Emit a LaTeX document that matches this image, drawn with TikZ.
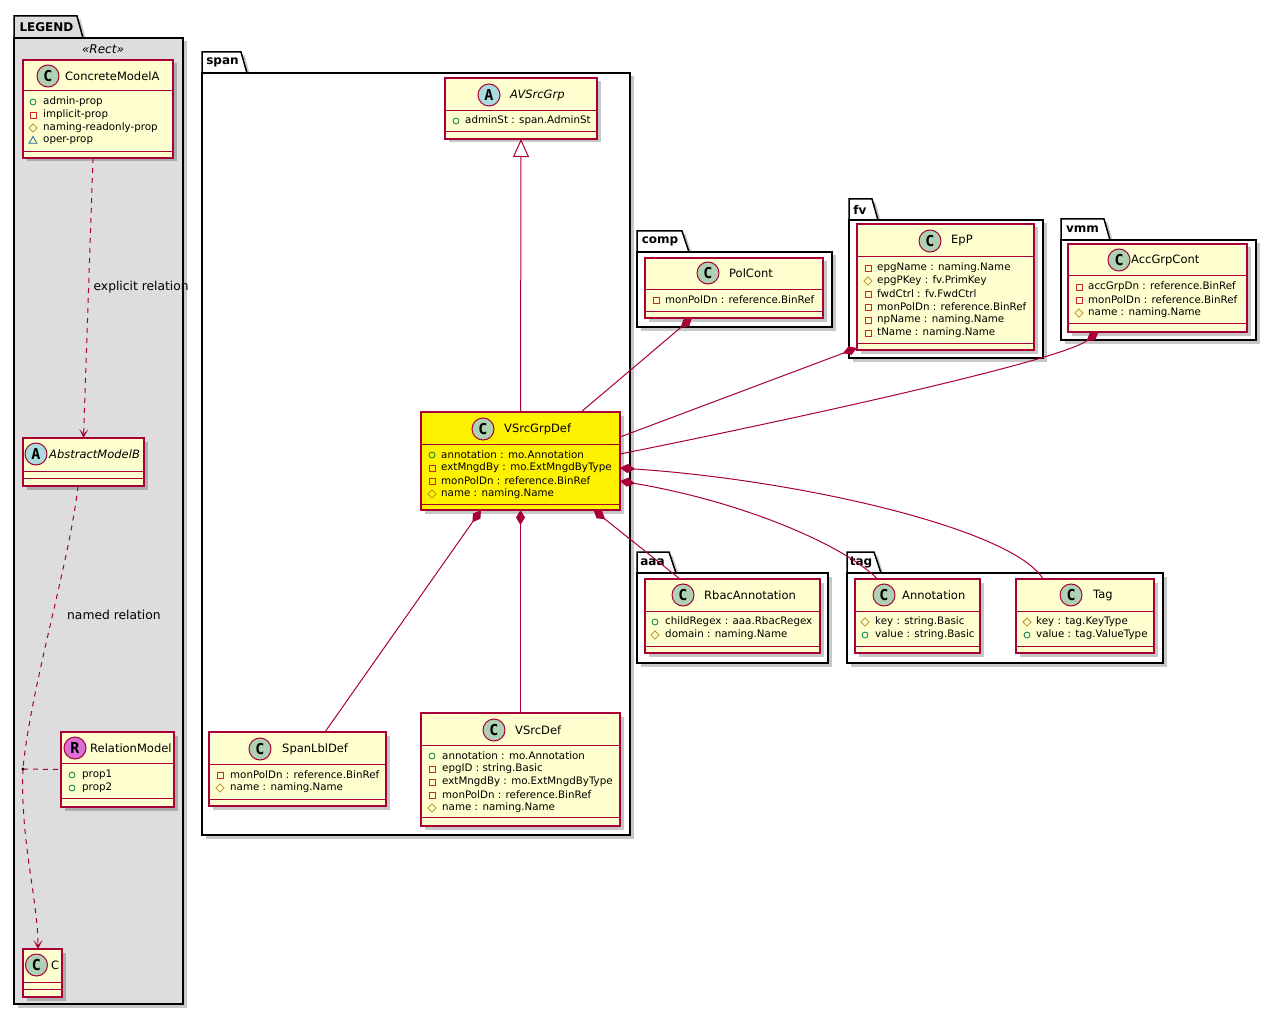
\documentclass[tikz,border=0pt]{standalone}
\usepackage{fontspec}
\setmainfont{DejaVu Sans}
\newfontfamily\spotfont{DejaVu Sans Mono}
\usepackage{xcolor}
\usepackage{tikz}
\usetikzlibrary{arrows.meta,shapes.geometric,shadows}

\definecolor{umlred}{HTML}{A80036}
\definecolor{umlfill}{HTML}{FEFECE}
\definecolor{spotC}{HTML}{ADD1B2}
\definecolor{spotA}{HTML}{A9DCDF}
\definecolor{spotR}{HTML}{DA70D6}
\definecolor{legendgray}{HTML}{DDDDDD}
\definecolor{icpub}{HTML}{038048}
\definecolor{icpriv}{HTML}{C82930}
\definecolor{icprot}{HTML}{B38D22}
\definecolor{icpkg}{HTML}{1963A0}

\begin{document}
\begin{tikzpicture}[x=1pt,y=-1pt,
  cls/.style={rectangle, draw=umlred, fill=umlfill, line width=1.1pt, inner sep=0, outer sep=0,
    drop shadow={shadow xshift=3.5pt, shadow yshift=-3.5pt, opacity=0.22, fill=black}},
  sepl/.style={umlred, line width=1pt},
  spot/.style={circle, draw=umlred, line width=1pt, minimum size=22, inner sep=0,
    font=\spotfont\bfseries\fontsize{15}{15}\selectfont},
  ttl/.style={anchor=west, inner sep=0, font=\fontsize{11.5}{13}\selectfont},
  ttli/.style={ttl, font=\fontsize{11.5}{13}\selectfont\itshape},
  att/.style={anchor=west, inner sep=0, font=\fontsize{10.3}{12}\selectfont},
  vpub/.style={circle, draw=icpub, line width=0.8pt, minimum size=6, inner sep=0},
  vpriv/.style={rectangle, draw=icpriv, line width=0.8pt, minimum size=6, inner sep=0},
  vprot/.style={diamond, draw=icprot, line width=0.8pt, minimum size=8.5, inner sep=0},
  vpkg/.style={regular polygon, regular polygon sides=3, draw=icpkg, line width=0.8pt, minimum size=9, inner sep=0},
  pkgbox/.style={draw=black, fill=white, line width=1.5pt,
    drop shadow={shadow xshift=3.5pt, shadow yshift=-3.5pt, opacity=0.22, fill=black}},
  pkglbl/.style={inner sep=0, font=\bfseries\fontsize{12}{14}\selectfont},
  stereo/.style={inner sep=0, font=\itshape\fontsize{12}{14}\selectfont},
  elbl/.style={inner sep=0, anchor=west, text=black, font=\fontsize{12.3}{14}\selectfont},
  compo/.style={umlred, line width=1pt, {Diamond[length=15pt,width=9pt]}-},
  inh/.style={umlred, line width=1pt, -{Triangle[length=18pt,width=16pt,fill=white]}},
  depl/.style={umlred, line width=1pt, dash pattern=on 5pt off 5pt},
  dep/.style={depl, -{Stealth[length=9pt,width=9pt,inset=5pt]}}]

\useasboundingbox[fill=white] (0,0) rectangle (1276,1016);

% packages
\filldraw[pkgbox, fill=legendgray] (14,38) -- (14,16) -- (77,16) -- (83,38) -- cycle;
\filldraw[pkgbox, fill=legendgray] (14,38) rectangle (183,1004);
\node[pkglbl] (legtab) at (46.5,27.5) {LEGEND};
\node[stereo] (legster) at (103,49) {«Rect»};

\filldraw[pkgbox] (202,73) -- (202,52) -- (241,52) -- (247,73) -- cycle;
\filldraw[pkgbox] (202,73) rectangle (630,835);
\node[pkglbl] (spantab) at (222.5,62.5) {span};

\filldraw[pkgbox] (637,252) -- (637,231) -- (682,231) -- (689,252) -- cycle;
\filldraw[pkgbox] (637,252) rectangle (832,327);
\node[pkglbl] (comptab) at (660,241.5) {comp};

\filldraw[pkgbox] (849,220) -- (849,199) -- (872,199) -- (878,220) -- cycle;
\filldraw[pkgbox] (849,220) rectangle (1043,358);
\node[pkglbl] (fvtab) at (860,209.5) {fv};

\filldraw[pkgbox] (1061,240) -- (1061,219) -- (1104,219) -- (1110,240) -- cycle;
\filldraw[pkgbox] (1061,240) rectangle (1256,340);
\node[pkglbl] (vmmtab) at (1082.5,229.5) {vmm};

\filldraw[pkgbox] (637,573) -- (637,552) -- (669,552) -- (676,573) -- cycle;
\filldraw[pkgbox] (637,573) rectangle (828,663);
\node[pkglbl] (aaatab) at (652.5,562.5) {aaa};

\filldraw[pkgbox] (847,573) -- (847,552) -- (874,552) -- (881,573) -- cycle;
\filldraw[pkgbox] (847,573) rectangle (1163,663);
\node[pkglbl] (tagtab) at (861,562.5) {tag};

% legend classes
\node[cls, minimum width=150, minimum height=98] (concA) at (98,109) {};
\draw[sepl] (23,91) -- (173,91) (23,152) -- (173,152);
\node[spot, fill=spotC] (concAspot) at (48,76) {C};
\node[ttl] (concAname) at (65,76) {ConcreteModelA};
\foreach \ic/\tx [count=\i] in {vpub/admin-prop, vpriv/implicit-prop, vprot/naming-readonly-prop, vpkg/oper-prop}
  {\node[\ic] (concAic\i) at (33,89+13*\i) {};
   \node[att] (concAat\i) at (43,89+13*\i) {\tx};}

\node[cls, minimum width=121, minimum height=48] (absB) at (83.5,462) {};
\draw[sepl] (23,471) -- (144,471) (23,478) -- (144,478);
\node[spot, fill=spotA] (absBspot) at (36,454) {A};
\node[ttli] (absBname) at (49,454) {AbstractModelB};

\node[cls, minimum width=113, minimum height=75] (relM) at (117.5,769.5) {};
\draw[sepl] (61,763) -- (174,763) (61,798) -- (174,798);
\node[spot, fill=spotR] (relMspot) at (75,748) {R};
\node[ttl] (relMname) at (90,748) {RelationModel};
\foreach \tx [count=\i] in {prop1, prop2}
  {\node[vpub] (relMic\i) at (72,762+13*\i) {};
   \node[att] (relMat\i) at (82,762+13*\i) {\tx};}

\node[cls, minimum width=39, minimum height=48] (cC) at (42.5,973) {};
\draw[sepl] (23,982) -- (62,982) (23,989) -- (62,989);
\node[spot, fill=spotC] (cCspot) at (36.5,965) {C};
\node[ttl] (cCname) at (51,965) {C};

% span
\node[cls, minimum width=152, minimum height=61] (avsg) at (521,108.5) {};
\draw[sepl] (445,111) -- (597,111) (445,132) -- (597,132);
\node[spot, fill=spotA] (avsgspot) at (489,95) {A};
\node[ttli] (avsgname) at (510,95) {AVSrcGrp};
\node[vpub] (avsgic1) at (456,121) {};
\node[att] (avsgat1) at (465,121) {adminSt : span.AdminSt};

\node[cls, fill=yellow, minimum width=199, minimum height=98] (vsgd) at (520.5,461) {};
\draw[sepl] (421,444) -- (620,444) (421,504) -- (620,504);
\node[spot, fill=spotC] (vsgdspot) at (483,429) {C};
\node[ttl] (vsgdname) at (504,429) {VSrcGrpDef};
\foreach \ic/\tx [count=\i] in {vpub/annotation : mo.Annotation, vpriv/extMngdBy : mo.ExtMngdByType,
    vpriv/monPolDn : reference.BinRef, vprot/name : naming.Name}
  {\node[\ic] (vsgdic\i) at (432,442+13*\i) {};
   \node[att] (vsgdat\i) at (441,442+13*\i) {\tx};}

\node[cls, minimum width=177, minimum height=74] (spanl) at (297.5,769) {};
\draw[sepl] (209,764) -- (386,764) (209,799) -- (386,799);
\node[spot, fill=spotC] (spanlspot) at (260,749) {C};
\node[ttl] (spanlname) at (282,749) {SpanLblDef};
\foreach \ic/\tx [count=\i] in {vpriv/monPolDn : reference.BinRef, vprot/name : naming.Name}
  {\node[\ic] (spanlic\i) at (220,762+13*\i) {};
   \node[att] (spanlat\i) at (230,762+13*\i) {\tx};}

\node[cls, minimum width=199, minimum height=113] (vsrc) at (520.5,769.5) {};
\draw[sepl] (421,745) -- (620,745) (421,817) -- (620,817);
\node[spot, fill=spotC] (vsrcspot) at (494,730) {C};
\node[ttl] (vsrcname) at (515,730) {VSrcDef};
\foreach \ic/\tx [count=\i] in {vpub/annotation : mo.Annotation, vpriv/epgID : string.Basic,
    vpriv/extMngdBy : mo.ExtMngdByType, vpriv/monPolDn : reference.BinRef, vprot/name : naming.Name}
  {\node[\ic] (vsrcic\i) at (432,743+13*\i) {};
   \node[att] (vsrcat\i) at (442,743+13*\i) {\tx};}

% comp, fv, vmm
\node[cls, minimum width=178, minimum height=60] (polc) at (734,288) {};
\draw[sepl] (645,289) -- (823,289) (645,311) -- (823,311);
\node[spot, fill=spotC] (polcspot) at (708,273) {C};
\node[ttl] (polcname) at (729,273) {PolCont};
\node[vpriv] (polcic1) at (656,300) {};
\node[att] (polcat1) at (665,300) {monPolDn : reference.BinRef};

\node[cls, minimum width=177, minimum height=126] (epp) at (945.5,287) {};
\draw[sepl] (857,257) -- (1034,257) (857,343) -- (1034,343);
\node[spot, fill=spotC] (eppspot) at (930,241) {C};
\node[ttl] (eppname) at (951,241) {EpP};
\foreach \ic/\tx [count=\i] in {vpriv/epgName : naming.Name, vprot/epgPKey : fv.PrimKey,
    vpriv/fwdCtrl : fv.FwdCtrl, vpriv/monPolDn : reference.BinRef, vpriv/npName : naming.Name,
    vpriv/tName : naming.Name}
  {\node[\ic] (eppic\i) at (868,255+13*\i) {};
   \node[att] (eppat\i) at (877,255+13*\i) {\tx};}

\node[cls, minimum width=179, minimum height=88] (acc) at (1157.5,288) {};
\draw[sepl] (1068,275) -- (1247,275) (1068,323) -- (1247,323);
\node[spot, fill=spotC] (accspot) at (1119,260) {C};
\node[ttl] (accname) at (1131,260) {AccGrpCont};
\foreach \ic/\tx [count=\i] in {vpriv/accGrpDn : reference.BinRef, vpriv/monPolDn : reference.BinRef,
    vprot/name : naming.Name}
  {\node[\ic] (accic\i) at (1079,274+13*\i) {};
   \node[att] (accat\i) at (1088,274+13*\i) {\tx};}

% aaa, tag
\node[cls, minimum width=175, minimum height=74] (rbac) at (732.5,616) {};
\draw[sepl] (645,611) -- (820,611) (645,646) -- (820,646);
\node[spot, fill=spotC] (rbacspot) at (683,595) {C};
\node[ttl] (rbacname) at (704,595) {RbacAnnotation};
\foreach \ic/\tx [count=\i] in {vpub/childRegex : aaa.RbacRegex, vprot/domain : naming.Name}
  {\node[\ic] (rbacic\i) at (655,609+13*\i) {};
   \node[att] (rbacat\i) at (665,609+13*\i) {\tx};}

\node[cls, minimum width=125, minimum height=74] (annot) at (917.5,616) {};
\draw[sepl] (855,611) -- (980,611) (855,646) -- (980,646);
\node[spot, fill=spotC] (annotspot) at (884,595) {C};
\node[ttl] (annotname) at (902,595) {Annotation};
\foreach \ic/\tx [count=\i] in {vprot/key : string.Basic, vpub/value : string.Basic}
  {\node[\ic] (annotic\i) at (865,609+13*\i) {};
   \node[att] (annotat\i) at (875,609+13*\i) {\tx};}

\node[cls, minimum width=138, minimum height=74] (tagc) at (1085,616) {};
\draw[sepl] (1016,611) -- (1154,611) (1016,646) -- (1154,646);
\node[spot, fill=spotC] (tagcspot) at (1071,595) {C};
\node[ttl] (tagcname) at (1093,595) {Tag};
\foreach \ic/\tx [count=\i] in {vprot/key : tag.KeyType, vpub/value : tag.ValueType}
  {\node[\ic] (tagcic\i) at (1027,609+13*\i) {};
   \node[att] (tagcat\i) at (1036,609+13*\i) {\tx};}

% draw the legend relations
\draw[dep] ([xshift=-5pt]concA.south) -- (absB.north)
  node[elbl, pos=0.46, xshift=4.5pt] (lblexp) {explicit relation};
\coordinate (relpt) at (23,769);
\draw[depl] ([xshift=-5.5pt]absB.south) .. controls +(-8,74) and +(7,-79) .. (relpt);
\draw[dep] (relpt) .. controls +(-3,71) and +(0,-49) .. ([xshift=-4.5pt]cC.north);
\draw[depl] (relpt) -- (relM.west);
\fill (relpt) circle (1.6);
\node[elbl] (lblnamed) at (67,615) {named relation};

% draw the arrows
\draw[inh] (vsgd.north) -- (avsg.south);
\draw[compo] ([xshift=-42pt]polc.south) -- ([xshift=60.5pt]vsgd.north);
\draw[compo] ([yshift=2pt]epp.south west) -- ([yshift=24pt]vsgd.east);
\draw[compo] ([xshift=-59pt]acc.south) .. controls +(-40,30) and +(150,-30) .. ([yshift=7pt]vsgd.east);
\draw[compo] ([yshift=-7pt]vsgd.east) .. controls +(180,12) and +(-30,-50) .. ([xshift=-42pt]tagc.north);
\draw[compo] ([yshift=-20pt]vsgd.east) .. controls +(120,20) and +(-35,-35) .. ([xshift=-40pt]annot.north);
\draw[compo] ([xshift=73pt]vsgd.south) -- ([xshift=-52.5pt]rbac.north);
\draw[compo] (vsgd.south) -- (vsrc.north);
\draw[compo] ([xshift=-39.5pt]vsgd.south) -- ([xshift=27.5pt]spanl.north);

\end{tikzpicture}
\end{document}
